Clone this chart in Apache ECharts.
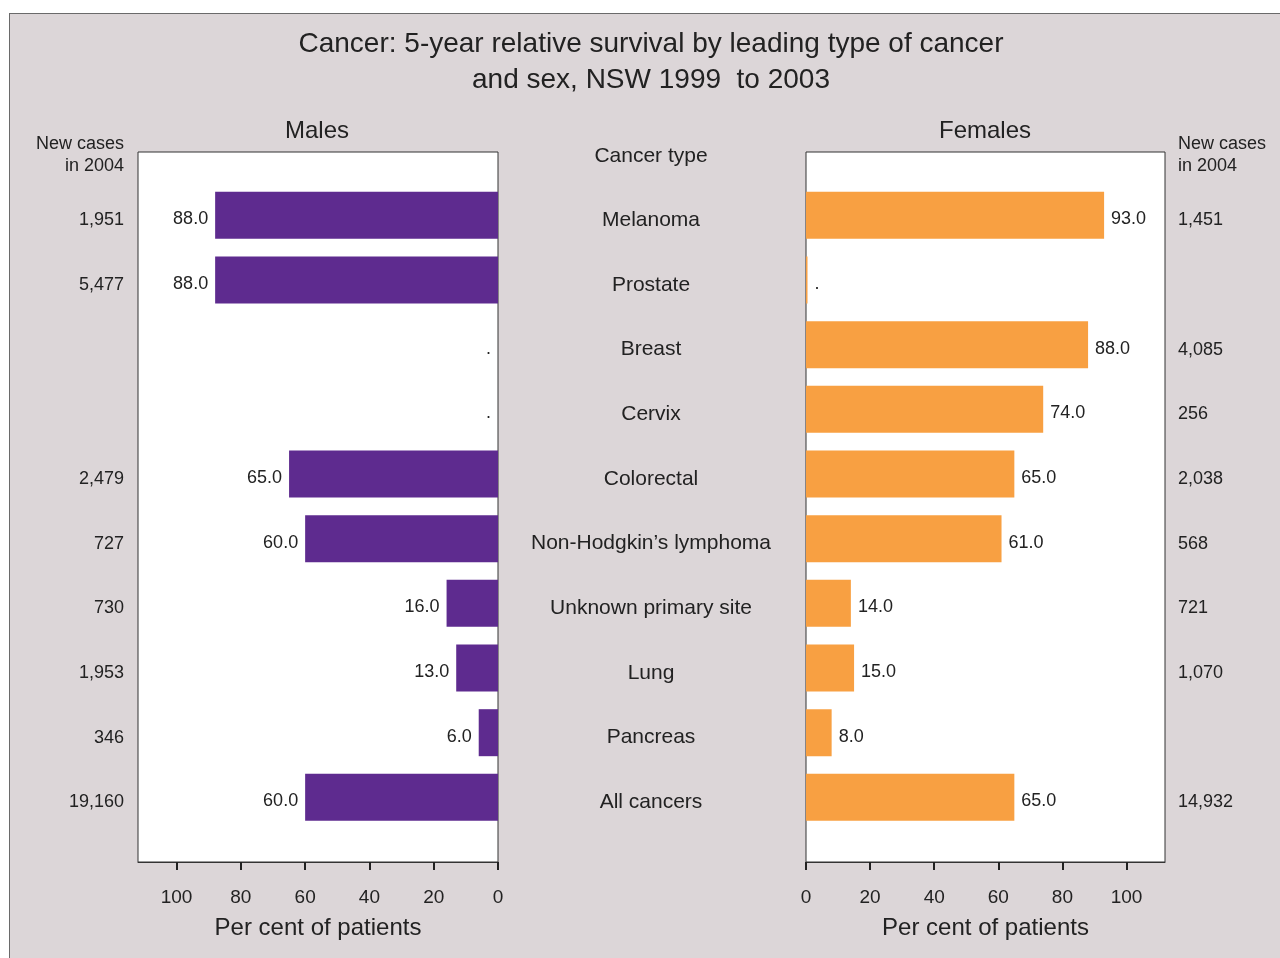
<!DOCTYPE html>
<html>
<head>
<meta charset="utf-8">
<script src="https://cdn.jsdelivr.net/npm/echarts@6/dist/echarts.min.js"></script>
<style>
  html, body { margin: 0; padding: 0; background: #ffffff; }
  #wrap { position: relative; width: 1280px; height: 958px; overflow: hidden; }
  #panel { position: absolute; left: 9px; top: 13px; width: 1290px; height: 960px;
           background: #dcd6d8; border-left: 1.5px solid #6a6a6a; border-top: 1.5px solid #6a6a6a; }
  #chart { position: absolute; left: 0; top: 0; width: 1280px; height: 958px; }
</style>
</head>
<body>
<div id="wrap">
  <div id="panel"></div>
  <div id="chart"></div>
</div>
<script>
// Cancer types, top to bottom
const cancerTypes = ['Melanoma', 'Prostate', 'Breast', 'Cervix', 'Colorectal',
  'Non-Hodgkin\u2019s lymphoma', 'Unknown primary site', 'Lung', 'Pancreas', 'All cancers'];

// 5-year relative survival (%)
const maleSurvival   = [88.0, 88.0, 0, 0, 65.0, 60.0, 16.0, 13.0, 6.0, 60.0];
const femaleSurvival = [93.0, 0, 88.0, 74.0, 65.0, 61.0, 14.0, 15.0, 8.0, 65.0];

// New cases in 2004
const maleCases   = ['1,951', '5,477', '', '', '2,479', '727', '730', '1,953', '346', '19,160'];
const femaleCases = ['1,451', '', '4,085', '256', '2,038', '568', '721', '1,070', '', '14,932'];

// Percentage axis ticks
const pctTicks = [0, 20, 40, 60, 80, 100];

const FONT = '"Liberation Sans", Arial, Helvetica, sans-serif';
const INK = '#222222';
const MALE = '#5e2b8f';
const FEMALE = '#f8a042';
const AXIS_MAX = 112;

const chart = echarts.init(document.getElementById('chart'), null, { renderer: 'canvas' });

const valLabel = v => (v === 0 ? '.' : v.toFixed(1));

function frameAxis(gridIndex, inverse) {
  return {
    type: 'value', gridIndex, min: 0, max: AXIS_MAX, inverse,
    splitLine: { show: false },
    axisLine: { show: true, lineStyle: { color: '#333', width: 1 } },
    axisTick: { show: true, customValues: pctTicks, length: 8, lineStyle: { color: INK, width: 2 } },
    axisLabel: { customValues: pctTicks, margin: 26, fontSize: 19, color: INK, fontFamily: FONT },
    name: 'Per cent of patients', nameLocation: 'middle', nameGap: 54,
    nameTextStyle: { fontSize: 24, color: INK, fontFamily: FONT }
  };
}
function hiddenValueAxis(gridIndex, inverse) {
  return { type: 'value', gridIndex, min: 0, max: AXIS_MAX, inverse, show: false };
}
function hiddenCatAxis(gridIndex, position) {
  return { type: 'category', gridIndex, data: cancerTypes, inverse: true, show: false, position };
}

const option = {
  animation: false,
  textStyle: { fontFamily: FONT },
  grid: [
    // frames with white plotting area
    { left: 138, width: 360, top: 152, height: 710, show: true, backgroundColor: '#ffffff', borderColor: '#333', borderWidth: 1 },
    { left: 806, width: 359, top: 152, height: 710, show: true, backgroundColor: '#ffffff', borderColor: '#333', borderWidth: 1 },
    // bar areas, ten rows
    { left: 138, width: 360, top: 183, height: 646.7 },
    { left: 806, width: 359, top: 183, height: 646.7 },
    // row text (set slightly lower than the bars)
    { left: 138, width: 360, top: 188, height: 646.7 },
    { left: 806, width: 359, top: 188, height: 646.7 }
  ],
  xAxis: [
    frameAxis(0, true),
    frameAxis(1, false),
    hiddenValueAxis(2, true),
    hiddenValueAxis(3, false),
    hiddenValueAxis(4, true),
    hiddenValueAxis(5, false)
  ],
  yAxis: [
    hiddenCatAxis(0, 'right'),
    hiddenCatAxis(1, 'left'),
    hiddenCatAxis(2, 'right'),
    hiddenCatAxis(3, 'left'),
    // male new cases
    {
      type: 'category', gridIndex: 4, data: cancerTypes, inverse: true, position: 'left',
      axisLine: { show: false }, axisTick: { show: false },
      axisLabel: { margin: 14, fontSize: 18, color: INK, fontFamily: FONT,
        formatter: (v, i) => maleCases[i] }
    },
    // cancer type names in the middle column
    {
      type: 'category', gridIndex: 4, data: cancerTypes, inverse: true, position: 'right',
      axisLine: { show: false }, axisTick: { show: false },
      axisLabel: { margin: 153, align: 'center', fontSize: 21, color: INK, fontFamily: FONT }
    },
    // female new cases
    {
      type: 'category', gridIndex: 5, data: cancerTypes, inverse: true, position: 'right',
      axisLine: { show: false }, axisTick: { show: false },
      axisLabel: { margin: 13, align: 'left', fontSize: 18, color: INK, fontFamily: FONT,
        formatter: (v, i) => femaleCases[i] }
    }
  ],
  series: [
    {
      name: 'Males', type: 'bar', xAxisIndex: 2, yAxisIndex: 2,
      data: maleSurvival, barWidth: 47, barMinHeight: 1.5,
      itemStyle: { color: MALE },
      label: { show: true, position: 'left', distance: 7, offset: [0, 4], fontSize: 18, color: INK, fontFamily: FONT,
        formatter: p => valLabel(p.value) }
    },
    {
      name: 'Females', type: 'bar', xAxisIndex: 3, yAxisIndex: 3,
      data: femaleSurvival, barWidth: 47, barMinHeight: 1.5,
      itemStyle: { color: FEMALE },
      label: { show: true, position: 'right', distance: 7, offset: [0, 4], fontSize: 18, color: INK, fontFamily: FONT,
        formatter: p => valLabel(p.value) }
    }
  ],
  graphic: [
    { type: 'text', x: 651, y: 26, style: {
        text: 'Cancer: 5-year relative survival by leading type of cancer\nand sex, NSW 1999  to 2003',
        font: '28px ' + FONT, fill: INK, align: 'center', verticalAlign: 'top', lineHeight: 36 } },
    { type: 'text', x: 317, y: 131, style: { text: 'Males', font: '24px ' + FONT, fill: INK, align: 'center', verticalAlign: 'middle' } },
    { type: 'text', x: 985, y: 131, style: { text: 'Females', font: '24px ' + FONT, fill: INK, align: 'center', verticalAlign: 'middle' } },
    { type: 'text', x: 651, y: 156, style: { text: 'Cancer type', font: '21px ' + FONT, fill: INK, align: 'center', verticalAlign: 'middle' } },
    { type: 'text', x: 124, y: 133, style: { text: 'New cases\nin 2004', font: '18px ' + FONT, fill: INK, align: 'right', verticalAlign: 'top', lineHeight: 22 } },
    { type: 'text', x: 1178, y: 133, style: { text: 'New cases\nin 2004', font: '18px ' + FONT, fill: INK, align: 'left', verticalAlign: 'top', lineHeight: 22 } }
  ]
};

chart.setOption(option);
</script>
</body>
</html>
